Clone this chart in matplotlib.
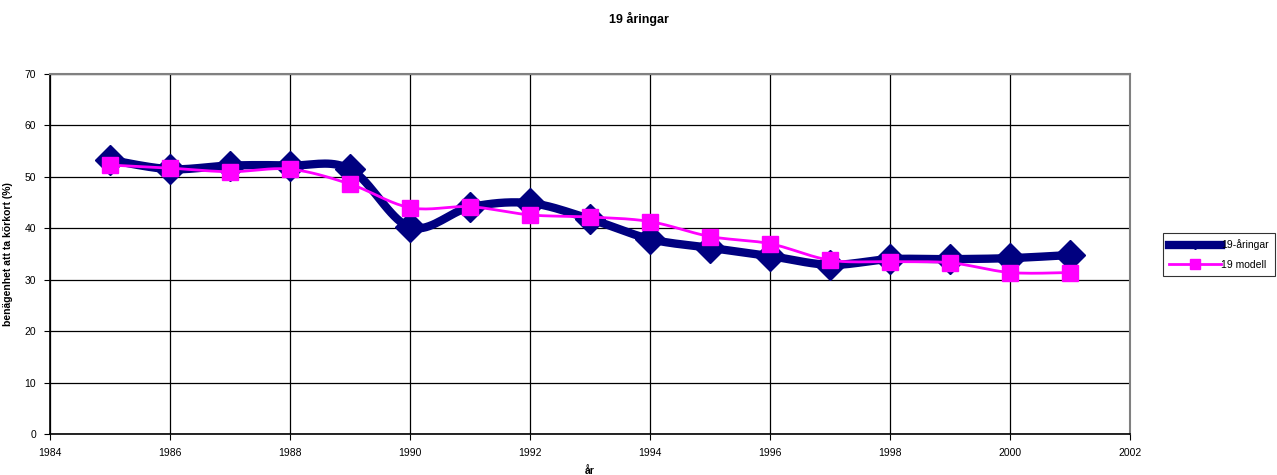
import numpy as np
import matplotlib.pyplot as plt
from matplotlib.lines import Line2D

plt.rcParams['font.family'] = ['Liberation Sans', 'DejaVu Sans']

years = [1985, 1986, 1987, 1988, 1989, 1990, 1991, 1992, 1993,
         1994, 1995, 1996, 1997, 1998, 1999, 2000, 2001]
aringar_19 = [53.3, 51.5, 52.2, 52.2, 51.5, 40.2, 44.1, 44.9, 41.8,
              37.9, 36.2, 34.6, 32.9, 34.0, 34.0, 34.2, 34.8]
modell_19 = [52.3, 51.7, 51.0, 51.5, 48.6, 44.0, 44.2, 42.6, 42.2,
             41.3, 38.4, 37.0, 33.8, 33.5, 33.3, 31.4, 31.4]

NAVY = '#000080'
MAGENTA = '#FF00FF'


def smooth(x, y, steps=20):
    """Catmull-Rom style smoothing like the spreadsheet's smoothed lines."""
    x = np.asarray(x, float)
    y = np.asarray(y, float)
    p = np.column_stack([x, y])
    pts = [p[0]]
    n = len(p)
    for i in range(n - 1):
        p0 = p[i - 1] if i > 0 else p[i]
        p3 = p[i + 2] if i + 2 < n else p[i + 1]
        p1, p2 = p[i], p[i + 1]
        c1 = p1 + (p2 - p0) / 6
        c2 = p2 - (p3 - p1) / 6
        t = np.linspace(0, 1, steps)[1:, None]
        seg = ((1 - t) ** 3 * p1 + 3 * (1 - t) ** 2 * t * c1
               + 3 * (1 - t) * t ** 2 * c2 + t ** 3 * p2)
        pts.extend(seg)
    pts = np.array(pts)
    return pts[:, 0], pts[:, 1]


fig = plt.figure(figsize=(12.77, 4.75), dpi=100)
ax = fig.add_axes([0.0392, 0.0863, 0.8458, 0.7579])

sx, sy = smooth(years, aringar_19)
ax.plot(sx, sy, color=NAVY, linewidth=6, solid_capstyle='round', zorder=3)
ax.plot(years, aringar_19, linestyle='none', marker='D', markersize=15,
        color=NAVY, zorder=4)

mx, my = smooth(years, modell_19)
ax.plot(mx, my, color=MAGENTA, linewidth=2, zorder=5)
ax.plot(years, modell_19, linestyle='none', marker='s', markersize=11,
        color=MAGENTA, zorder=6)

ax.set_xlim(1984, 2002)
ax.set_ylim(0, 70)
ax.set_xticks(range(1984, 2003, 2))
ax.set_yticks(range(0, 71, 10))
ax.grid(True, color='black', linewidth=0.9)
ax.set_axisbelow(True)
for side in ['top', 'right']:
    ax.spines[side].set_color('#808080')
    ax.spines[side].set_linewidth(1.5)
for side in ['left', 'bottom']:
    ax.spines[side].set_color('black')
    ax.spines[side].set_linewidth(1.2)
ax.tick_params(labelsize=7.5, length=4, width=0.8, direction='out', pad=6)

ax.set_xlabel('år', fontsize=7.5, fontweight='bold', labelpad=6)
ax.set_ylabel('benägenhet att ta körkort (%)', fontsize=7.5, fontweight='bold', labelpad=8)
fig.suptitle('19 åringar', fontsize=9, fontweight='bold', y=0.975, x=0.5)

handles = [
    Line2D([], [], color=NAVY, linewidth=6, marker='D', markersize=4),
    Line2D([], [], color=MAGENTA, linewidth=2, marker='s', markersize=7),
]
leg = fig.legend(handles, ['19-åringar', '19 modell'], loc='upper left',
                 bbox_to_anchor=(0.9065, 0.52), fontsize=7.5, frameon=True,
                 fancybox=False, edgecolor='black', handlelength=5.0,
                 handletextpad=0.0, borderpad=0.6, labelspacing=0.9)
leg.get_frame().set_linewidth(0.8)

fig.savefig('out.png', dpi=100)
